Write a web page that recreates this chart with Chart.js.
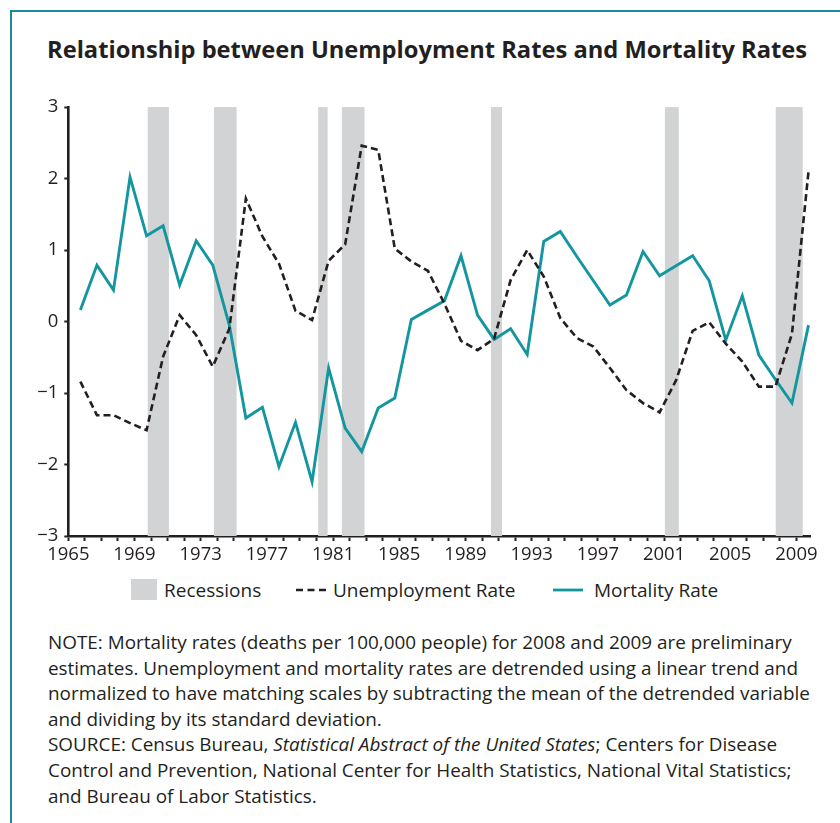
<!DOCTYPE html>
<html>
<head>
<meta charset="utf-8">
<script src="https://cdn.jsdelivr.net/npm/chart.js@4"></script>
<style>
  html,body{margin:0;padding:0;background:#fff;width:840px;height:823px;overflow:hidden;}
  body{position:relative;font-family:"Open Sans",sans-serif;color:#231f20;}
  #frame{position:absolute;left:10px;top:10px;width:840px;height:823px;border-left:2px solid #1a8b98;border-top:2px solid #1a8b98;box-sizing:border-box;}
  #title{position:absolute;left:47px;top:38px;font-size:23.7px;font-weight:700;line-height:1;white-space:nowrap;}
  #wrap{position:absolute;left:0;top:90px;width:840px;height:480px;}
  #legend{position:absolute;top:579px;left:0;width:840px;height:22px;font-size:19px;line-height:22px;}
  .li{position:absolute;top:0;white-space:nowrap;}
  .sw{position:absolute;}
  #note{position:absolute;left:48px;top:630px;font-size:18.9px;line-height:25.6px;white-space:nowrap;}
</style>
</head>
<body>
<div id="frame"></div>
<div id="title">Relationship between Unemployment Rates and Mortality Rates</div>
<div id="wrap"><canvas id="c" width="840" height="480"></canvas></div>
<div id="legend">
  <div class="sw" style="left:131px;top:0px;width:26px;height:21px;background:#d1d3d4;"></div>
  <div class="li" style="left:164px;">Recessions</div>
  <svg class="sw" style="left:296px;top:9px;" width="32" height="4"><line x1="0" y1="2" x2="32" y2="2" stroke="#231f20" stroke-width="2.5" stroke-dasharray="7,4.5"/></svg>
  <div class="li" style="left:333px;">Unemployment Rate</div>
  <svg class="sw" style="left:553px;top:9px;" width="30" height="4"><line x1="0" y1="2" x2="30" y2="2" stroke="#13969f" stroke-width="2.8"/></svg>
  <div class="li" style="left:594px;">Mortality Rate</div>
</div>
<div id="note">
<div>NOTE: Mortality rates (deaths per 100,000 people) for 2008 and 2009 are preliminary</div>
<div>estimates. Unemployment and mortality rates are detrended using a linear trend and</div>
<div>normalized to have matching scales by subtracting the mean of the detrended variable</div>
<div>and dividing by its standard deviation.</div>
<div>SOURCE: Census Bureau, <i>Statistical Abstract of the United States</i>; Centers for Disease</div>
<div>Control and Prevention, National Center for Health Statistics, National Vital Statistics;</div>
<div>and Bureau of Labor Statistics.</div>
</div>
<script>
const years = [1965,1966,1967,1968,1969,1970,1971,1972,1973,1974,
  1975,1976,1977,1978,1979,1980,1981,1982,1983,1984,
  1985,1986,1987,1988,1989,1990,1991,1992,1993,1994,
  1995,1996,1997,1998,1999,2000,2001,2002,2003,2004,
  2005,2006,2007,2008,2009];
const unemploymentRate = [-0.84,-1.31,-1.31,-1.42,-1.52,-0.49,0.09,-0.19,-0.63,-0.10,
  1.72,1.19,0.81,0.15,0.02,0.85,1.08,2.46,2.40,1.02,
  0.84,0.71,0.25,-0.27,-0.40,-0.24,0.58,1.00,0.63,0.05,
  -0.23,-0.35,-0.65,-0.96,-1.14,-1.27,-0.82,-0.13,-0.01,-0.31,
  -0.56,-0.91,-0.91,-0.17,2.10];
const mortalityRate = [0.16,0.79,0.44,2.02,1.20,1.34,0.51,1.13,0.79,-0.05,
  -1.35,-1.20,-2.03,-1.41,-2.24,-0.65,-1.49,-1.82,-1.21,-1.07,
  0.03,0.16,0.29,0.92,0.09,-0.25,-0.10,-0.46,1.12,1.26,
  0.91,0.57,0.23,0.37,0.98,0.64,0.78,0.92,0.57,-0.26,
  0.36,-0.47,-0.81,-1.14,-0.05];
const recessionStart = [1969.80,1973.80,1980.10,1981.53,1990.54,2001.05,2007.75];
const recessionEnd   = [1971.08,1975.17,1980.67,1982.90,1991.21,2001.89,2009.38];
const xTickYears = years;
const xLabelYears = [1965,1969,1973,1977,1981,1985,1989,1993,1997,2001,2005,2009];
const yTicks = [-3,-2,-1,0,1,2,3];

// annual values plotted late in each year, as in the original figure
const yearPlotOffset = 0.73;

const INK = '#231f20';
const TEAL = '#13969f';

const recessionPlugin = {
  id: 'recessions',
  beforeDatasetsDraw(chart) {
    const {ctx, scales} = chart;
    ctx.save();
    ctx.fillStyle = '#d1d3d4';
    for (let i = 0; i < recessionStart.length; i++) {
      const x0 = scales.x.getPixelForValue(recessionStart[i]);
      const x1 = scales.x.getPixelForValue(recessionEnd[i]);
      const yTop = scales.y.getPixelForValue(3);
      const yBot = scales.y.getPixelForValue(-3);
      ctx.fillRect(x0, yTop, x1 - x0, yBot - yTop);
    }
    ctx.restore();
  }
};

new Chart(document.getElementById('c'), {
  type: 'line',
  data: {
    datasets: [
      {
        label: 'Unemployment Rate',
        data: years.map((y, i) => ({x: y + yearPlotOffset, y: unemploymentRate[i]})),
        borderColor: INK,
        borderWidth: 2.6,
        borderDash: [7, 4],
        pointRadius: 0,
        tension: 0,
        fill: false
      },
      {
        label: 'Mortality Rate',
        data: years.map((y, i) => ({x: y + yearPlotOffset, y: mortalityRate[i]})),
        borderColor: TEAL,
        borderWidth: 2.9,
        pointRadius: 0,
        tension: 0,
        fill: false
      }
    ]
  },
  options: {
    responsive: false,
    animation: false,
    events: [],
    layout: {padding: {left: 0, right: 29.5, top: 17, bottom: 0}},
    plugins: {legend: {display: false}, tooltip: {enabled: false}, title: {display: false}},
    scales: {
      x: {
        type: 'linear',
        min: 1965,
        max: 2009.85,
        afterBuildTicks(scale) { scale.ticks = xTickYears.map(v => ({value: v})); },
        afterFit(scale) { scale.height = 34; },
        ticks: {
          autoSkip: false,
          maxRotation: 0,
          padding: 3,
          color: INK,
          font: {family: 'Open Sans', size: 18.5},
          callback: v => xLabelYears.includes(v) ? String(v) : ''
        },
        grid: {display: true, drawOnChartArea: false, drawTicks: true, tickLength: 5, tickWidth: 2, tickColor: INK},
        border: {display: true, color: INK, width: 2.6}
      },
      y: {
        type: 'linear',
        min: -3,
        max: 3,
        afterBuildTicks(scale) { scale.ticks = yTicks.map(v => ({value: v})); },
        afterFit(scale) { scale.width = 68.3; },
        ticks: {
          padding: 6,
          color: INK,
          font: {family: 'Open Sans', size: 18.5},
          callback: v => String(v).replace('-', '\u2212')
        },
        grid: {display: true, drawOnChartArea: false, drawTicks: true, tickLength: 4, tickWidth: 2, tickColor: INK},
        border: {display: true, color: INK, width: 2.6}
      }
    }
  },
  plugins: [recessionPlugin]
});
</script>
</body>
</html>
